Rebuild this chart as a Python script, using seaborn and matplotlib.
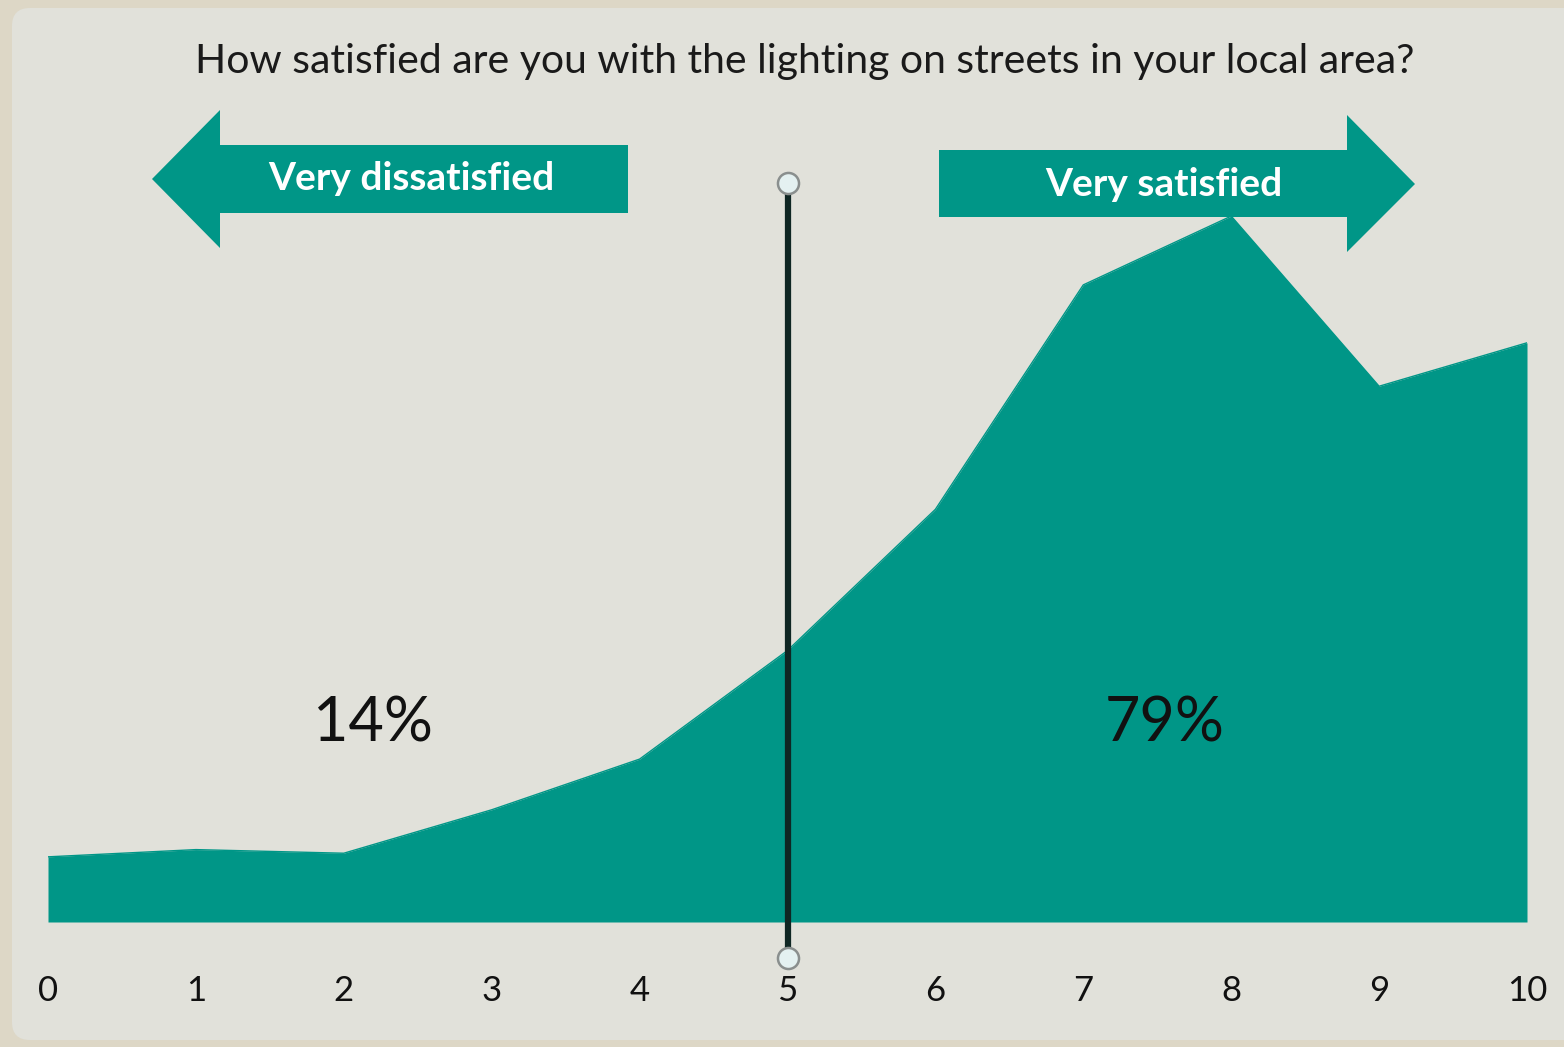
import numpy as np
import pandas as pd
import matplotlib
matplotlib.use("Agg")
import matplotlib.pyplot as plt
import seaborn as sns
from matplotlib.patches import Polygon, FancyBboxPatch

# satisfaction scores and share of respondents (%)
scores = [0, 1, 2, 3, 4, 5, 6, 7, 8, 9, 10]
share = [1.8, 2.0, 1.9, 3.1, 4.5, 7.5, 11.4, 17.6, 19.5, 14.8, 16.0]
tick_labels = [str(s) for s in scores]
title = "How satisfied are you with the lighting on streets in your local area?"
left_label, right_label = "Very dissatisfied", "Very satisfied"
left_pct, right_pct = "14%", "79%"
midpoint = 5

teal = "#009687"
panel = "#E1E1DA"
border = "#DDD7C6"

sns.set_theme(style="white")
plt.rcParams["font.family"] = ["Lato", "DejaVu Sans"]

df = pd.DataFrame({"score": scores, "share": share})

W, H = 1564, 1047
fig = plt.figure(figsize=(W / 100, H / 100), dpi=100)
fig.patch.set_facecolor(border)

# overlay in pixel coordinates for the panel and arrows
over = fig.add_axes([0, 0, 1, 1], zorder=0)
over.set_xlim(0, W)
over.set_ylim(H, 0)
over.axis("off")
over.add_patch(FancyBboxPatch((12, 8), W + 40, 1032, boxstyle="round,pad=0,rounding_size=18",
                              facecolor=panel, edgecolor="none"))

# main axes: x 0..10 -> px 48..1527, baseline at px 922
px_per_unit = 36.2
top_px = 100
ax = fig.add_axes([48 / W, 1 - 922 / H, (1527 - 48) / W, (922 - top_px) / H], zorder=1)
ax.set_facecolor("none")
ax.fill_between(df["score"], 0, df["share"], color=teal, linewidth=0)
sns.lineplot(data=df, x="score", y="share", ax=ax, color=teal, linewidth=1)
ax.set_xlim(0, 10)
ax.set_ylim(0, (922 - top_px) / px_per_unit)
ax.set_xticks(scores)
ax.set_xticklabels(tick_labels, fontsize=25, color="#111111")
ax.set_yticks([])
ax.set_xlabel("")
ax.set_ylabel("")
for s in ax.spines.values():
    s.set_visible(False)
ax.tick_params(axis="x", length=16, width=1, color="#D3D3CC", pad=22)

# midpoint divider with round end handles
y_lo = -(958 - 922) / px_per_unit
y_hi = (922 - 183) / px_per_unit
ax.plot([midpoint, midpoint], [y_lo, y_hi], color="#0F2623", linewidth=4.5,
        solid_capstyle="butt", clip_on=False, zorder=5)
ax.scatter([midpoint, midpoint], [y_lo, y_hi], s=230, facecolor="#E4F1F1",
           edgecolor="#8A8F8E", linewidth=1.8, zorder=6, clip_on=False)

# percentage labels
ax.text(2.2, (922 - 724) / px_per_unit, left_pct, ha="center", va="center",
        fontsize=44, color="#111111")
ax.text(7.55, (922 - 724) / px_per_unit, right_pct, ha="center", va="center",
        fontsize=44, color="#111111")

# arrows
over.add_patch(Polygon([(152, 179), (220, 110), (220, 145), (628, 145), (628, 213),
                        (220, 213), (220, 248)], closed=True, facecolor=teal, edgecolor="none"))
over.add_patch(Polygon([(1415, 184), (1347, 115), (1347, 150), (939, 150), (939, 217),
                        (1347, 217), (1347, 252)], closed=True, facecolor=teal, edgecolor="none",
                       zorder=3))
over.text(411, 178, left_label, ha="center", va="center", fontsize=28,
          fontweight="bold", color="white")
over.text(1164, 185, right_label, ha="center", va="center", fontsize=28,
          fontweight="bold", color="white", zorder=4)

over.text(805, 62, title, ha="center", va="center", fontsize=29.5, color="#1A1A1A")

fig.savefig("out.png", dpi=100, facecolor=fig.get_facecolor())
